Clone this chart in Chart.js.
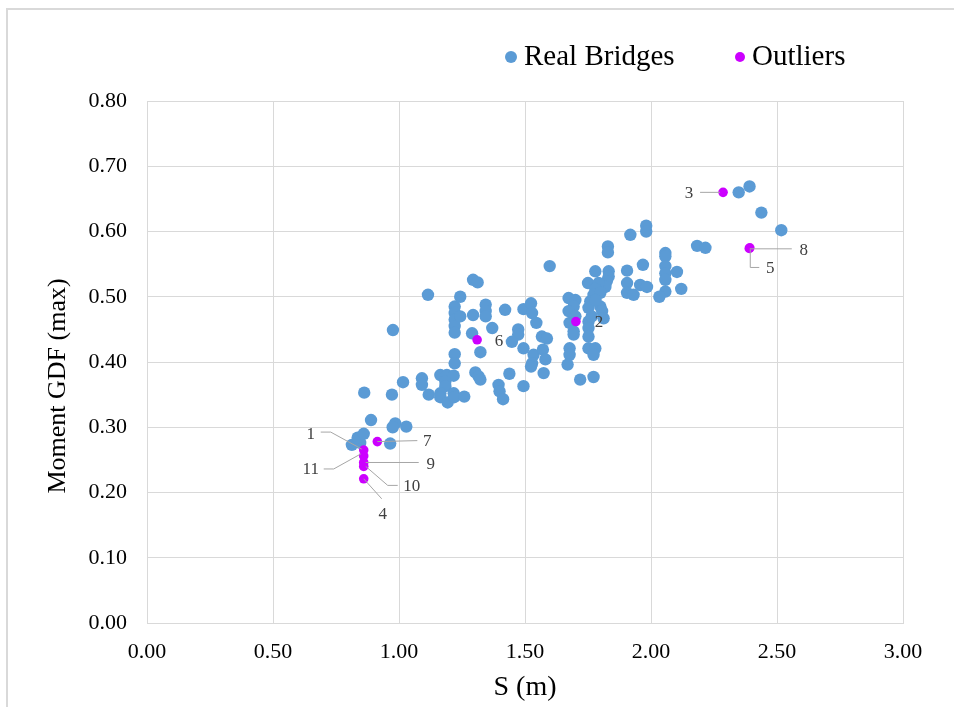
<!DOCTYPE html>
<html>
<head>
<meta charset="utf-8">
<script src="https://cdn.jsdelivr.net/npm/chart.js@4.4.1/dist/chart.umd.min.js"></script>
<style>
  html, body { margin: 0; padding: 0; background: #fff; }
  #wrap { position: relative; width: 954px; height: 707px; overflow: hidden; }
</style>
</head>
<body>
<div id="wrap"><canvas id="c" width="954" height="707"></canvas></div>
<script>
// Real bridges: span S (m) against maximum moment GDF
const bridgeS = [
  0.813, 0.846, 0.836, 0.860, 0.889, 0.985, 0.975, 1.029, 0.965, 0.862, 0.976, 0.972, 1.016,
  1.091, 1.091, 1.118, 1.115, 1.164, 1.190, 1.217, 1.184, 1.184, 1.164, 1.164, 1.193, 1.217, 1.219, 1.259,
  1.221, 1.221, 1.221, 1.221, 1.221, 1.243, 1.243, 1.221, 1.221,
  1.294, 1.312, 1.294, 1.290, 1.344, 1.344, 1.344, 1.370, 1.421, 1.323, 1.303, 1.316, 1.323, 1.395, 1.399, 1.413, 1.438,
  1.494, 1.524, 1.528, 1.545, 1.473, 1.473, 1.448, 1.494, 1.534, 1.528, 1.567, 1.587, 1.571, 1.581, 1.574, 1.524, 1.598, 1.494,
  1.673, 1.700, 1.693, 1.673, 1.677, 1.693, 1.693, 1.677, 1.677, 1.669, 1.719, 1.700,
  1.829, 1.829, 1.779, 1.832, 1.832, 1.825, 1.819, 1.750, 1.792, 1.779, 1.772, 1.799, 1.759, 1.752, 1.799, 1.806, 1.812,
  1.752, 1.752, 1.752, 1.752, 1.779, 1.772, 1.772, 1.780, 1.765,
  1.905, 1.905, 1.905, 1.931, 1.957, 1.984, 1.968, 1.918, 1.981, 1.981,
  2.057, 2.057, 2.057, 2.057, 2.057, 2.103, 2.120, 2.057, 2.033,
  2.183, 2.216, 2.348, 2.391, 2.438, 2.517
];
const bridgeGDF = [
  0.273, 0.276, 0.284, 0.290, 0.311, 0.306, 0.300, 0.301, 0.275, 0.353, 0.449, 0.350, 0.369,
  0.375, 0.365, 0.350, 0.503, 0.380, 0.380, 0.379, 0.370, 0.363, 0.352, 0.346, 0.338, 0.352, 0.346, 0.347,
  0.485, 0.475, 0.465, 0.455, 0.445, 0.470, 0.500, 0.412, 0.398,
  0.526, 0.522, 0.472, 0.444, 0.488, 0.478, 0.470, 0.452, 0.480, 0.415, 0.384, 0.378, 0.373, 0.365, 0.355, 0.343, 0.382,
  0.481, 0.490, 0.475, 0.460, 0.450, 0.442, 0.431, 0.421, 0.411, 0.398, 0.439, 0.436, 0.419, 0.404, 0.383, 0.393, 0.547, 0.363,
  0.498, 0.495, 0.485, 0.478, 0.460, 0.447, 0.442, 0.421, 0.411, 0.396, 0.373, 0.470,
  0.577, 0.568, 0.539, 0.539, 0.531, 0.524, 0.515, 0.521, 0.521, 0.512, 0.503, 0.506, 0.493, 0.483, 0.485, 0.478, 0.467,
  0.462, 0.452, 0.439, 0.421, 0.421, 0.411, 0.377, 0.495, 0.470,
  0.540, 0.521, 0.506, 0.503, 0.518, 0.515, 0.549, 0.595, 0.609, 0.600,
  0.567, 0.562, 0.547, 0.536, 0.526, 0.538, 0.512, 0.508, 0.500,
  0.578, 0.575, 0.660, 0.669, 0.629, 0.602
];

// Outlier bridges, numbered 1..11
const outlierIds = ["1", "2", "3", "4", "5", "6", "7", "8", "9", "10", "11"];
const outlierS   = [0.860, 1.702, 2.286, 0.860, 2.390, 1.310, 0.914, 2.392, 0.860, 0.860, 0.860];
const outlierGDF = [0.265, 0.462, 0.660, 0.221, 0.574, 0.434, 0.278, 0.575, 0.246, 0.240, 0.256];

const xTicks = [0, 0.5, 1, 1.5, 2, 2.5, 3];
const yTicks = [0, 0.1, 0.2, 0.3, 0.4, 0.5, 0.6, 0.7, 0.8];

const seriesNames = ["Real Bridges", "Outliers"];
const xTitle = "S (m)";
const yTitle = "Moment GDF (max)";

const BLUE = "#5B9BD5";
const PURPLE = "#CC00FF";
const GRID = "#d9d9d9";
const SERIF = "'Liberation Serif', 'Times New Roman', serif";

const toPoints = (xs, ys) => xs.map((x, i) => ({ x: x, y: ys[i] }));

// Leader-line layout for each numbered outlier: path offsets from the point and the text offset
const calloutLayout = {
  "1":  { path: [[-2, -1], [-33, -18], [-43, -18]], text: [-53, -16] },
  "11": { path: [[-3, -2], [-30, 13], [-40, 13]], text: [-53, 14] },
  "9":  { path: [[2, 0], [55, 0]], text: [67, 2] },
  "10": { path: [[2, 0], [24, 19], [34, 19]], text: [48, 20] },
  "4":  { path: [[0, 0], [18, 20]], text: [19, 36] },
  "7":  { path: [[0, 0], [40, -1]], text: [50, 0] },
  "6":  { path: null, text: [22, 2] },
  "2":  { path: null, text: [23, 1] },
  "3":  { path: [[-3, 0], [-23, 0]], text: [-34, 1] },
  "8":  { path: [[0, 1], [42, 1]], text: [54, 3] },
  "5":  { path: [[1, 1], [1, 19], [10, 19]], text: [21, 20] }
};

const decorations = {
  id: "decorations",
  beforeDraw(chart) {
    const ctx = chart.ctx;
    ctx.save();
    ctx.fillStyle = "#fff";
    ctx.fillRect(0, 0, chart.width, chart.height);
    // outer frame
    ctx.strokeStyle = GRID;
    ctx.lineWidth = 2;
    ctx.beginPath();
    ctx.moveTo(7, chart.height + 2);
    ctx.lineTo(7, 9);
    ctx.lineTo(chart.width + 2, 9);
    ctx.stroke();
    ctx.restore();
  },
  afterDraw(chart) {
    const ctx = chart.ctx;
    const xs = chart.scales.x, ys = chart.scales.y;
    ctx.save();
    // numbered outlier callouts
    ctx.font = "17px " + SERIF;
    ctx.textAlign = "center";
    ctx.textBaseline = "middle";
    outlierIds.forEach((id, i) => {
      const px = xs.getPixelForValue(outlierS[i]);
      const py = ys.getPixelForValue(outlierGDF[i]);
      const lay = calloutLayout[id];
      if (lay.path) {
        ctx.strokeStyle = "#a6a6a6";
        ctx.lineWidth = 1;
        ctx.beginPath();
        lay.path.forEach((p, k) => {
          if (k === 0) ctx.moveTo(px + p[0], py + p[1]);
          else ctx.lineTo(px + p[0], py + p[1]);
        });
        ctx.stroke();
      }
      ctx.fillStyle = "#404040";
      ctx.fillText(id, px + lay.text[0], py + lay.text[1]);
    });

    // legend
    ctx.font = "29px " + SERIF;
    ctx.textAlign = "left";
    ctx.textBaseline = "middle";
    ctx.fillStyle = BLUE;
    ctx.beginPath(); ctx.arc(511, 57, 6, 0, Math.PI * 2); ctx.fill();
    ctx.fillStyle = "#000";
    ctx.fillText(seriesNames[0], 524, 57);
    ctx.fillStyle = PURPLE;
    ctx.beginPath(); ctx.arc(740, 57, 5, 0, Math.PI * 2); ctx.fill();
    ctx.fillStyle = "#000";
    ctx.fillText(seriesNames[1], 752, 57);

    // axis titles
    ctx.font = "28px " + SERIF;
    ctx.textAlign = "center";
    ctx.fillText(xTitle, (chart.chartArea.left + chart.chartArea.right) / 2, 688);
    ctx.translate(58, 386);
    ctx.rotate(-Math.PI / 2);
    ctx.font = "26px " + SERIF;
    ctx.fillText(yTitle, 0, 0);
    ctx.restore();
  }
};

new Chart(document.getElementById("c"), {
  type: "scatter",
  data: {
    datasets: [
      {
        label: seriesNames[0],
        data: toPoints(bridgeS, bridgeGDF),
        backgroundColor: BLUE,
        borderWidth: 0,
        pointRadius: 6.2,
        order: 1
      },
      {
        label: seriesNames[1],
        data: toPoints(outlierS, outlierGDF),
        backgroundColor: PURPLE,
        borderWidth: 0,
        pointRadius: 4.8,
        order: 0
      }
    ]
  },
  options: {
    responsive: false,
    animation: false,
    devicePixelRatio: 1,
    layout: { padding: { top: 101, right: 51, left: 0, bottom: 0 } },
    plugins: { legend: { display: false }, tooltip: { enabled: false } },
    scales: {
      x: {
        type: "linear",
        min: xTicks[0],
        max: xTicks[xTicks.length - 1],
        afterBuildTicks: (s) => { s.ticks = xTicks.map(v => ({ value: v })); },
        afterFit: (s) => { s.height = 84; },
        ticks: {
          padding: 16,
          color: "#000",
          font: { family: SERIF, size: 22 },
          callback: (v) => Number(v).toFixed(2)
        },
        grid: { color: GRID, lineWidth: 1, drawTicks: false },
        border: { color: GRID, width: 1 }
      },
      y: {
        type: "linear",
        min: yTicks[0],
        max: yTicks[yTicks.length - 1],
        afterBuildTicks: (s) => { s.ticks = yTicks.map(v => ({ value: v })); },
        afterFit: (s) => { s.width = 147; },
        ticks: {
          padding: 20,
          color: "#000",
          font: { family: SERIF, size: 22 },
          callback: (v) => Number(v).toFixed(2)
        },
        grid: { color: GRID, lineWidth: 1, drawTicks: false },
        border: { color: GRID, width: 1 }
      }
    }
  },
  plugins: [decorations]
});
</script>
</body>
</html>
